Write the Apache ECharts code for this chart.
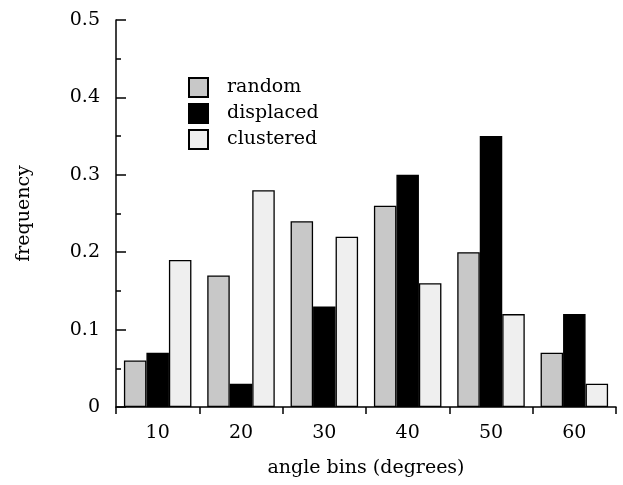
<!DOCTYPE html>
<html><head><meta charset="utf-8">
<script src="https://cdn.jsdelivr.net/npm/echarts@6/dist/echarts.min.js"></script>
<style>html,body{margin:0;padding:0;background:#fff}#c{width:623px;height:485px}</style>
</head><body><div id="c"></div>
<script>
const categories = ['10','20','30','40','50','60'];
const randomVals = [0.06,0.17,0.24,0.26,0.20,0.07];
const displacedVals = [0.07,0.03,0.13,0.30,0.35,0.12];
const clusteredVals = [0.19,0.28,0.22,0.16,0.12,0.03];
const seriesNames = ['random','displaced','clustered'];
const FONT = 'DejaVu Serif';
const chart = echarts.init(document.getElementById('c'));
function bar(name, data, color){
  return {name, type:'bar', data, barGap:'0%', barCategoryGap:'19%',
    itemStyle:{color, borderColor:'#000', borderWidth:1.3}};
}
chart.setOption({
  animation:false,
  grid:{left:116,right:7,top:20,bottom:78},
  legend:{orient:'vertical',left:183,top:72,itemWidth:19,itemHeight:19,itemGap:5,
    icon:'rect',textStyle:{fontFamily:FONT,fontSize:19,color:'#000',padding:[0,0,0,14],lineHeight:20},
    data:seriesNames},
  xAxis:{type:'category',data:categories,
    axisLine:{lineStyle:{color:'#000',width:1.5}},
    axisTick:{show:true,length:7,lineStyle:{color:'#000',width:1.5}},
    axisLabel:{fontFamily:FONT,fontSize:19,color:'#000',margin:17},
    name:'angle bins (degrees)',nameLocation:'middle',nameGap:52,
    nameTextStyle:{fontFamily:FONT,fontSize:19,color:'#000'}},
  yAxis:{type:'value',min:0,max:0.5,interval:0.1,
    axisLine:{show:true,lineStyle:{color:'#000',width:1.5}},
    axisTick:{show:true,inside:true,length:10,lineStyle:{color:'#000',width:1.5}},
    minorTick:{show:true,splitNumber:2,length:5,lineStyle:{color:'#000',width:1.5}},
    splitLine:{show:false},
    axisLabel:{fontFamily:FONT,fontSize:19,color:'#000',margin:16,
      formatter:v=>v===0?'0':v.toFixed(1)},
    name:'frequency',nameLocation:'middle',nameGap:82,nameRotate:90,
    nameTextStyle:{fontFamily:FONT,fontSize:19,color:'#000'}},
  series:[bar('random',randomVals,'#c8c8c8'),bar('displaced',displacedVals,'#000'),bar('clustered',clusteredVals,'#efefef')]
});
</script></body></html>
